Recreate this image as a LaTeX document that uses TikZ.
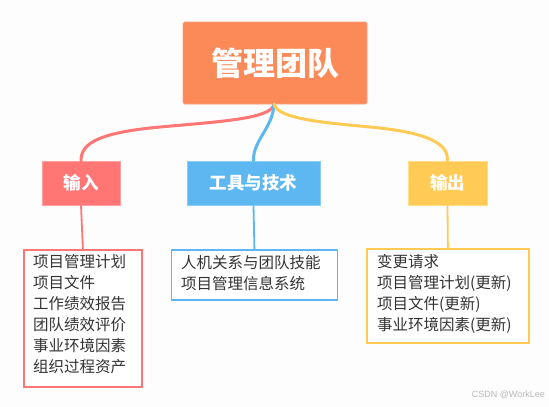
\documentclass[tikz,border=0pt]{standalone}
\usepackage{fontspec}
\setmainfont{Noto Sans CJK SC}
\newfontfamily\wmfont{Liberation Sans}
\definecolor{bgc}{RGB}{253,253,253}
\definecolor{mainc}{RGB}{252,137,88}
\definecolor{redc}{RGB}{255,118,117}
\definecolor{redb}{RGB}{255,160,160}
\definecolor{bluec}{RGB}{93,183,240}
\definecolor{blueb}{RGB}{140,205,245}
\definecolor{yelc}{RGB}{255,203,85}
\definecolor{yelb}{RGB}{255,222,140}
\definecolor{txtc}{RGB}{51,51,51}
\begin{document}
\begin{tikzpicture}[x=1pt,y=-1pt,
  mainbox/.style={fill=mainc,draw=mainc!80!white,line width=0.6pt,rounded corners=1.5pt,text=white,font=\fontsize{32}{36}\selectfont\bfseries,minimum width=184pt,minimum height=82pt,inner sep=0pt},
  lvlbox/.style={line width=0.8pt,text=white,font=\fontsize{17.5}{20}\selectfont\bfseries,minimum height=44pt,inner sep=0pt},
  listbox/.style={fill=white,line width=1.8pt,text=txtc,font=\fontsize{15.5}{21}\selectfont,align=left,anchor=north west,inner xsep=0pt,inner ysep=0pt},
  branch/.style={line width=3pt,line cap=round},
  stem/.style={line width=1.8pt}]
\fill[bgc] (0,0) rectangle (549,407);
\useasboundingbox (0,0) rectangle (549,407);
% nodes
\node[mainbox] (main) at (275,63) {管理团队};
\node[lvlbox,fill=redc,draw=redb,minimum width=78pt] (in) at (81,183) {输入};
\node[lvlbox,fill=bluec,draw=blueb,minimum width=133pt] (tool) at (253.5,183) {工具与技术};
\node[lvlbox,fill=yelc,draw=yelb,minimum width=79pt] (out) at (447.5,183) {输出};
\coordinate (root) at (274,104);
% branches
\draw[branch,redc] (root) .. controls (272,120) and (210,122) .. (150,128) .. controls (95,134) and (81,145) .. (in.north);
\draw[branch,bluec] (root) .. controls (273,128) and (253,140) .. (tool.north);
\draw[branch,yelc] (root) .. controls (278,120) and (330,123) .. (380,128) .. controls (432,134) and (448,145) .. (out.north);
% lists
\node[listbox,draw=redc,minimum width=118pt,minimum height=137pt,text width=108pt,inner xsep=0pt] (inl) at (23,249) {};
\node[txtc,font=\fontsize{15.5}{21}\selectfont,align=left,anchor=north west,inner sep=0pt] (inlt) at (33,254) {项目管理计划\\项目文件\\工作绩效报告\\团队绩效评价\\事业环境因素\\组织过程资产};
\node[listbox,draw=bluec,minimum width=166pt,minimum height=50pt] (tooll) at (170.5,249) {};
\node[txtc,font=\fontsize{15.5}{21}\selectfont,align=left,anchor=north west,inner sep=0pt] (toollt) at (181,255) {人机关系与团队技能\\项目管理信息系统};
\node[listbox,draw=yelc,minimum width=162pt,minimum height=94pt] (outl) at (366,248) {};
\node[txtc,font=\fontsize{15.5}{21}\selectfont,align=left,anchor=north west,inner sep=0pt] (outlt) at (377,254) {变更请求\\项目管理计划(更新)\\项目文件(更新)\\事业环境因素(更新)};
% stems
\draw[stem,redc] (in.south) -- (inl.north);
\draw[stem,bluec] (tool.south) -- (tooll.north);
\draw[stem,yelc] (out.south) -- (outl.north);
% watermark
\node[text=black!28,font=\wmfont\fontsize{9}{10}\selectfont,anchor=east,inner sep=0pt] (wm) at (545,395) {CSDN @WorkLee};
\end{tikzpicture}
\end{document}
